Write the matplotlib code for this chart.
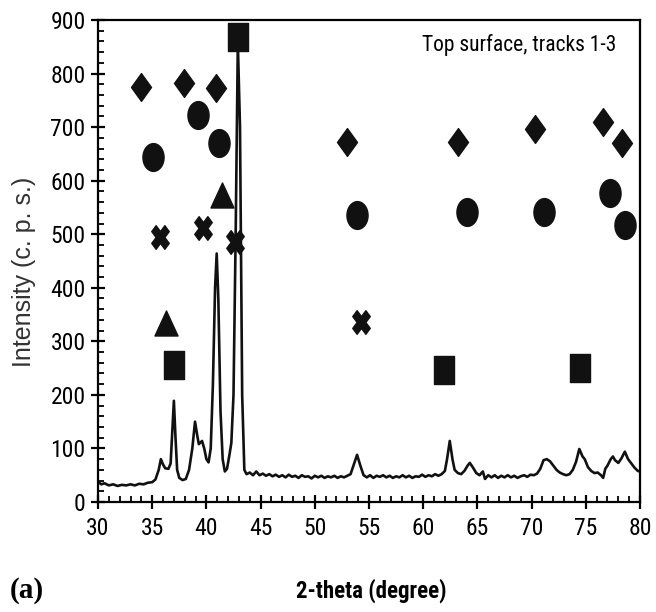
import matplotlib
matplotlib.use("Agg")
import matplotlib.pyplot as plt
from matplotlib import font_manager as fm
from matplotlib.markers import MarkerStyle
from matplotlib.transforms import Affine2D
from matplotlib.ticker import MultipleLocator

# XRD trace
two_theta = [30.0, 30.3, 30.6, 31.0, 31.4, 31.8, 32.2, 32.6, 33.0, 33.4, 33.8, 34.2, 34.6,
             35.0, 35.3, 35.6, 35.8, 36.0, 36.2, 36.5, 36.7, 36.85, 37.0, 37.15, 37.3,
             37.5, 37.8, 38.1, 38.4, 38.7, 38.95, 39.15, 39.3, 39.6, 39.8, 40.0, 40.2,
             40.4, 40.6, 40.8, 40.95, 41.1, 41.3, 41.5, 41.7, 41.9, 42.1, 42.3, 42.5,
             42.7, 42.9, 43.1, 43.3, 43.5, 43.7, 44.0, 44.3, 44.6, 44.9, 45.2, 45.5,
             45.8, 46.1, 46.4, 46.7, 47.0, 47.3, 47.6, 47.9, 48.2, 48.5, 48.8, 49.1,
             49.4, 49.7, 50.0, 50.3, 50.6, 50.9, 51.2, 51.5, 51.8, 52.1, 52.4, 52.7,
             53.0, 53.3, 53.6, 53.9, 54.2, 54.5, 54.8, 55.1, 55.4, 55.7, 56.0, 56.3,
             56.6, 56.9, 57.2, 57.5, 57.8, 58.1, 58.4, 58.7, 59.0, 59.3, 59.6, 59.9,
             60.2, 60.5, 60.8, 61.1, 61.4, 61.7, 62.0, 62.2, 62.45, 62.7, 62.9, 63.2,
             63.5, 63.8, 64.1, 64.3, 64.6, 64.9, 65.2, 65.5, 65.7, 66.0, 66.3, 66.6,
             66.9, 67.2, 67.5, 67.8, 68.1, 68.4, 68.7, 69.0, 69.3, 69.6, 69.9, 70.2,
             70.5, 70.8, 71.1, 71.4, 71.7, 72.0, 72.3, 72.6, 72.9, 73.2, 73.5, 73.8,
             74.1, 74.4, 74.7, 74.9, 75.2, 75.5, 75.8, 76.1, 76.4, 76.6, 76.8, 77.0,
             77.3, 77.5, 77.7, 78.0, 78.3, 78.6, 78.9, 79.2, 79.5, 79.8, 80.0]
intensity = [38, 33, 35, 31, 33, 30, 32, 31, 33, 31, 34, 33, 36,
             37, 42, 60, 80, 70, 63, 62, 72, 130, 189, 120, 60,
             45, 41, 43, 60, 100, 150, 125, 108, 114, 100, 80, 74,
             100, 220, 400, 464, 380, 170, 80, 57, 62, 85, 110, 200,
             500, 858, 700, 200, 60, 52, 55, 50, 57, 50, 53, 49,
             52, 48, 51, 47, 50, 46, 51, 47, 49, 45, 50, 47,
             48, 44, 49, 46, 49, 45, 48, 46, 49, 45, 48, 46,
             49, 52, 70, 88, 68, 50, 46, 50, 45, 49, 47, 50,
             46, 49, 45, 48, 46, 50, 46, 49, 45, 48, 47, 51,
             47, 50, 48, 52, 49, 52, 58, 80, 114, 80, 60, 54,
             52, 58, 68, 73, 64, 54, 50, 57, 43, 50, 46, 50,
             45, 49, 46, 50, 46, 49, 45, 48, 50, 47, 51, 50,
             53, 62, 78, 80, 76, 68, 60, 55, 52, 50, 52, 60,
             75, 99, 85, 80, 65, 58, 54, 55, 50, 45, 62, 68,
             80, 85, 78, 73, 82, 94, 80, 72, 64, 58, 57]

# phase markers
diamond_x = [34.0, 37.9, 40.9, 53.0, 63.2, 70.3, 76.6, 78.3]
diamond_y = [775, 782, 773, 672, 672, 696, 709, 670]
circle_x = [35.1, 39.2, 41.2, 53.9, 64.0, 71.1, 77.2, 78.6]
circle_y = [644, 723, 670, 536, 541, 541, 577, 517]
triangle_x = [41.4, 36.3]
triangle_y = [573, 334]
cross_x = [35.7, 39.7, 42.6, 54.3]
cross_y = [495, 512, 485, 336]
square_x = [42.9, 37.0, 61.9, 74.5]
square_y = [868, 256, 246, 250]


def narrow_font(size, bold=False):
    # look for any installed narrow/condensed sans face, else Liberation Sans
    prefs = ["Liberation Sans Narrow", "Arial Narrow", "Roboto Condensed",
             "DejaVu Sans Condensed", "Noto Sans Condensed", "Open Sans Condensed",
             "Noto Sans", "Roboto", "DejaVu Sans"]
    best = None
    for f in fm.fontManager.ttflist:
        tag = (f.name + " " + str(f.stretch) + " " + f.fname).lower()
        if "mono" in tag or "serif" in tag or "italic" in tag or "oblique" in tag:
            continue
        if not ("narrow" in tag or "condensed" in tag):
            continue
        if "semicondensed" in tag or "semi-condensed" in tag or "extra" in tag:
            continue
        w = f.weight if isinstance(f.weight, int) else fm.weight_dict.get(f.weight, 400)
        if (w >= 600) != bold or w < 300 or w > 800:
            continue
        rank = len(prefs)
        for i, p in enumerate(prefs):
            if f.name.startswith(p.split()[0]) and p.split()[-1].lower() in tag:
                rank = i
                break
        if best is None or rank < best[0]:
            best = (rank, f.fname)
    if best is not None:
        return fm.FontProperties(fname=best[1], size=size)
    return fm.FontProperties(family=["Liberation Sans", "DejaVu Sans"], size=size,
                             weight="bold" if bold else "normal")


def squish(marker, sx=0.78):
    # the scan is squeezed sideways, so markers are taller than wide
    ms = MarkerStyle(marker)
    p = ms.get_path().transformed(ms.get_transform())
    return p.transformed(Affine2D().scale(sx, 1.0))


def main():
    fig = plt.figure(figsize=(6.56, 6.12), dpi=100)
    ax = fig.add_axes([98 / 656, 1 - 502 / 612, 542 / 656, 482 / 612])

    ax.plot(two_theta, intensity, color="#111111", lw=1.9)

    kw = dict(ls="none", color="#111111", mec="#111111")
    ax.plot(diamond_x, diamond_y, marker=squish("D", 0.72), ms=20, **kw)
    ax.plot(circle_x, circle_y, marker=squish("o", 0.76), ms=20, **kw)
    ax.plot(triangle_x, triangle_y, marker=squish("^", 0.92), ms=18, **kw)
    ax.plot(cross_x, cross_y, marker=squish("X", 0.74), ms=17, **kw)
    ax.plot(square_x, square_y, marker=squish("s", 0.75), ms=20, **kw)

    ax.set_xlim(30, 80)
    ax.set_ylim(0, 900)
    ax.xaxis.set_major_locator(MultipleLocator(5))
    ax.xaxis.set_minor_locator(MultipleLocator(1))
    ax.yaxis.set_major_locator(MultipleLocator(100))
    ax.yaxis.set_minor_locator(MultipleLocator(20))
    ax.tick_params(which="major", direction="inout", length=10, width=1.6, pad=4)
    ax.tick_params(which="minor", direction="in", length=4, width=1.3)
    ax.tick_params(axis="x", pad=6)
    for s in ax.spines.values():
        s.set_linewidth(1.6)

    tick_fp = narrow_font(17)
    for lab in ax.get_xticklabels() + ax.get_yticklabels():
        lab.set_fontproperties(tick_fp)

    ax.text(59.9, 853, "Top surface, tracks 1-3", fontproperties=narrow_font(15.5),
            va="center", ha="left")

    fig.text(24 / 656, 1 - 272 / 612, "Intensity (c. p. s.)", rotation=90,
             ha="center", va="center", fontsize=18, color="#333333",
             family=["Liberation Sans", "DejaVu Sans"])
    fig.text(371 / 656, 1 - 591 / 612, "2-theta (degree)", ha="center", va="center",
             fontproperties=narrow_font(16.5, bold=True))
    fig.text(10 / 656, 1 - 590 / 612, "(a)", ha="left", va="center",
             fontsize=21, fontweight="bold",
             family=["Liberation Serif", "DejaVu Serif"])

    fig.savefig("out.png", dpi=100)


if __name__ == "__main__":
    main()
